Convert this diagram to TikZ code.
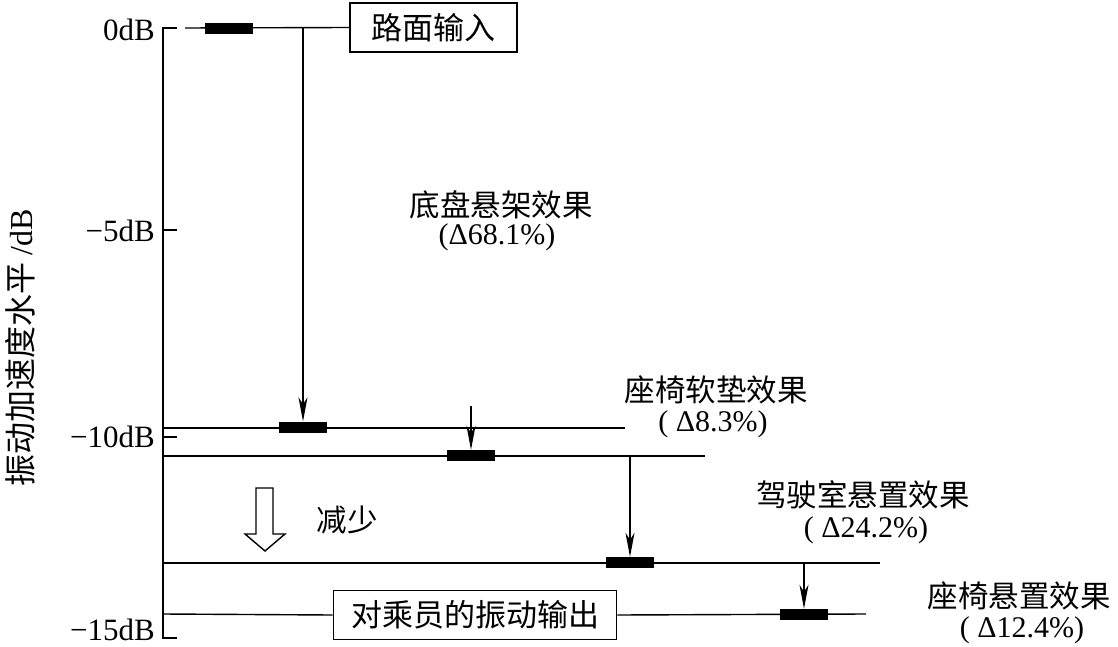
\documentclass[tikz,border=0pt]{standalone}
\usepackage{fontspec}
\setmainfont{Liberation Serif}
\newfontfamily\cjk{Noto Sans CJK SC}
\usetikzlibrary{arrows.meta,positioning,calc}

\begin{document}
\begin{tikzpicture}[
  x=1pt, y=-1pt,
  level/.style={draw=black, line width=1.4pt},
  damper/.style={rectangle, fill=black, minimum width=48pt, minimum height=11pt, inner sep=0pt},
  drop/.style={draw=black, line width=1.2pt, -{Stealth[length=24pt, width=9pt, inset=7pt]}},
  dblabel/.style={anchor=east, font=\fontsize{31}{31}\selectfont, inner sep=0pt},
  cnlabel/.style={font=\cjk\fontsize{30.5}{30.5}\selectfont, inner sep=0pt},
  pctlabel/.style={font=\fontsize{30}{30}\selectfont, inner sep=0pt},
  textbox/.style={draw=black, line width=1.7pt, fill=white, font=\cjk\fontsize{31}{31}\selectfont, minimum height=49pt, inner sep=0pt},
  hollow/.style={draw=black, line width=1.4pt, fill=white, line join=miter}
]
  \useasboundingbox (0,0) rectangle (1118,647);
  \coordinate (ax0) at (163,28);\coordinate (ax15) at (163,638);
  \coordinate (t0) at (177,28);\coordinate (t5a) at (163,230);\coordinate (t5b) at (177,230);\coordinate (t10a) at (163,437);\coordinate (t10b) at (177,437);\coordinate (t15) at (177,638);
  \coordinate (l0s) at (185,28);\coordinate (l0c) at (303,28);
  \coordinate (l1s) at (163,428);\coordinate (l1e) at (625,428);
  \coordinate (l2s) at (163,456);\coordinate (l2e) at (705,456);\coordinate (l2c) at (630,456);\coordinate (cushtop) at (471,406);
  \coordinate (l3s) at (163,563);\coordinate (l3e) at (880,563);\coordinate (l3c) at (804,563);
  \coordinate (l4s) at (163,614);\coordinate (l4e) at (866,614);
  \draw[level] (t0) -- (ax0) -- (ax15) -- (t15);
  \draw[level] (t5a) -- (t5b);\draw[level] (t10a) -- (t10b);
  \node[dblabel] (db0) at (155,30) {0dB};
  \node[dblabel] (db5) at (155,231) {−5dB};
  \node[dblabel] (db10) at (155,437) {−10dB};
  \node[dblabel] (db15) at (155,630) {−15dB};
  \node[cnlabel, rotate=90, font=\cjk\fontsize{32}{32}\selectfont] (yaxis) at (20,348) {振动加速度水平 \rmfamily/dB};
  \node[textbox, minimum width=167pt] (inbox) at (433.5,27.5) {路面输入};
  \node[textbox, minimum width=283pt] (outbox) at (475,615) {对乘员的振动输出};
  \draw[level] (l0s) -- (inbox.west);
  \draw[level] (l1s) -- (l1e);\draw[level] (l2s) -- (l2e);\draw[level] (l3s) -- (l3e);
  \draw[level] (l4s) -- (outbox.west);\draw[level] (outbox.east) -- (l4e);
  \foreach \name/\px/\py in {dampA/229/28.5, dampB/303/427, dampC/471/455.5, dampD/630/562.5, dampE/804/614.5} {
    \node[damper] (\name) at (\px,\py) {};
  }
  \draw[drop] (l0c) -- (dampB.north);
  \draw[drop] (cushtop) -- (dampC.north);
  \draw[drop] (l2c) -- (dampD.north);
  \draw[drop] (l3c) -- (dampE.north);
  \node[cnlabel] (chassis) at (501,205) {底盘悬架效果};
  \node[pctlabel] (chassisp) at (497,237) {(Δ68.1\%)};
  \node[cnlabel] (cushion) at (716,390) {座椅软垫效果};
  \node[pctlabel] (cushionp) at (713,424) {( Δ8.3\%)};
  \node[cnlabel] (cab) at (863,495) {驾驶室悬置效果};
  \node[pctlabel] (cabp) at (866,530) {( Δ24.2\%)};
  \node[cnlabel] (seat) at (1019,596) {座椅悬置效果};
  \node[pctlabel] (seatp) at (1022,630) {( Δ12.4\%)};
  \draw[hollow] (256,488) -- (273,488) -- (273,534) -- (285,534) -- (265,551) -- (245,534) -- (256,534) -- cycle;
  \node[cnlabel] (less) at (347,520) {减少};
\end{tikzpicture}
\end{document}
